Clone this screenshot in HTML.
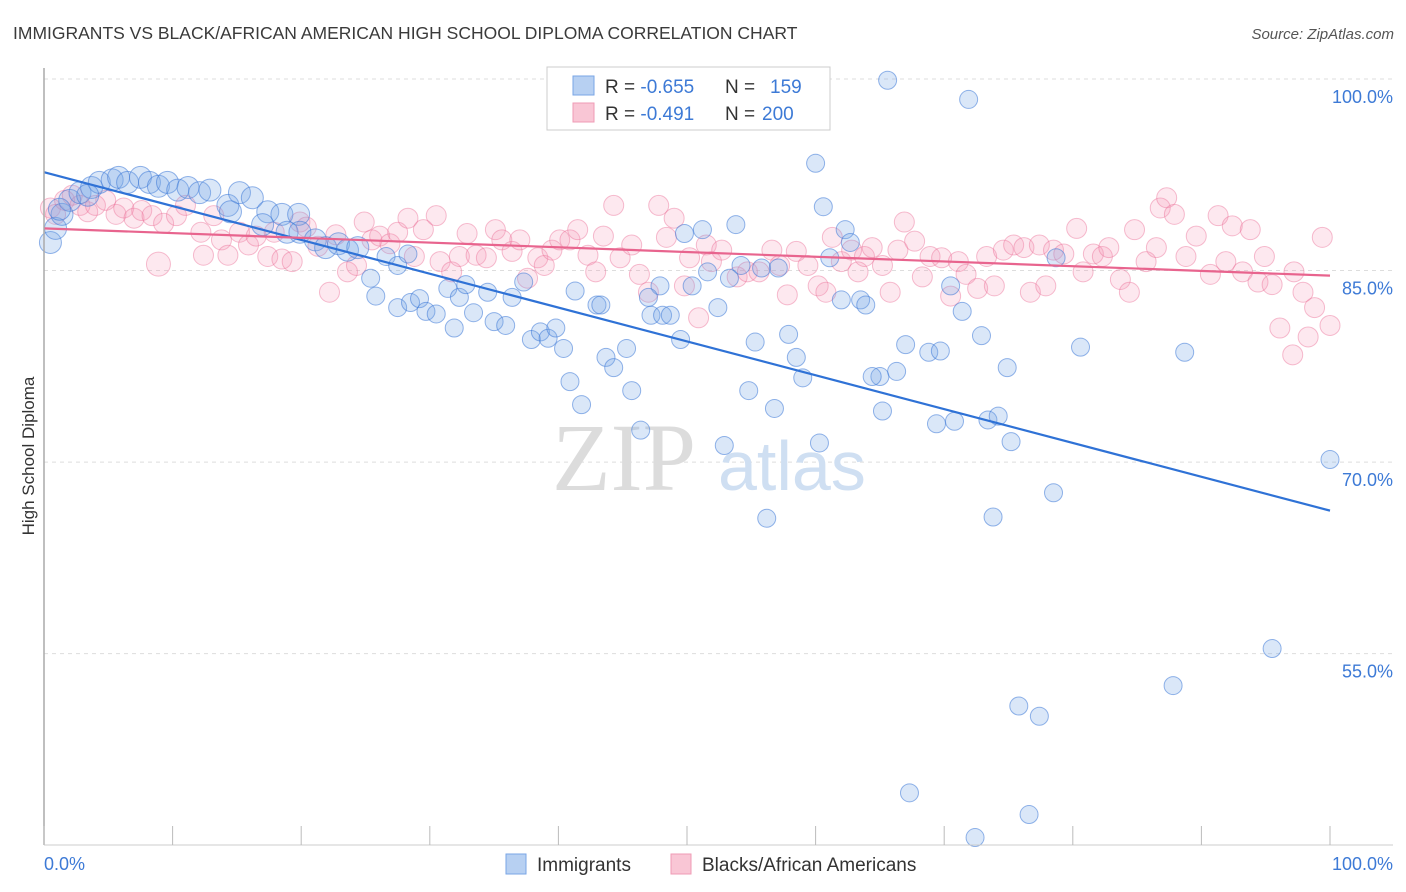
<!DOCTYPE html>
<html><head><meta charset="utf-8"><style>
body{margin:0;background:#fff;font-family:"Liberation Sans",sans-serif;}
</style></head><body>
<svg id="chart" width="1406" height="892" xmlns="http://www.w3.org/2000/svg" style="display:block">
<text x="13" y="39" font-size="17.5" fill="#3a3a3a" font-family="Liberation Sans, sans-serif">IMMIGRANTS VS BLACK/AFRICAN AMERICAN HIGH SCHOOL DIPLOMA CORRELATION CHART</text>
<text x="1394" y="39" font-size="15" fill="#555" text-anchor="end" font-style="italic">Source: ZipAtlas.com</text>
<g id="grid"></g>
<g>
<text x="552" y="490" font-size="96" fill="#dcdcdc" font-family="Liberation Serif, serif">ZIP</text>
<text x="718" y="490" font-size="70" fill="#cfdff2" font-family="Liberation Sans, sans-serif">atlas</text>
</g>
<g id="pinkPts"></g>
<g id="bluePts"></g>
<g id="trend"></g>
<line x1="44" y1="68" x2="44" y2="845" stroke="#aaa" stroke-width="1.5"/>
<line x1="44" y1="845" x2="1393" y2="845" stroke="#ccc" stroke-width="1"/>
<g id="axes"></g>
<text transform="translate(34,456) rotate(-90)" font-size="17" fill="#333" text-anchor="middle">High School Diploma</text>
<g>
<rect x="547" y="67" width="283" height="63" fill="#fff" stroke="#ccc"/>
<rect x="573" y="76" width="21" height="19" fill="#b7d0f2" stroke="#7aa6e6"/>
<rect x="573" y="103" width="21" height="19" fill="#f9c6d5" stroke="#ef9bb5"/>
<text x="605" y="93" font-size="19" fill="#333">R = <tspan fill="#3d7ad6">-0.655</tspan><tspan x="725">N = </tspan><tspan fill="#3d7ad6" x="770">159</tspan></text>
<text x="605" y="120" font-size="19" fill="#333">R = <tspan fill="#3d7ad6"> -0.491</tspan><tspan x="725">N = </tspan><tspan fill="#3d7ad6" x="762">200</tspan></text>
</g>
<g>
<rect x="506" y="854" width="20" height="20" fill="#b7d0f2" stroke="#7aa6e6"/>
<text x="537" y="871" font-size="19" fill="#333">Immigrants</text>
<rect x="671" y="854" width="20" height="20" fill="#f9c6d5" stroke="#ef9bb5"/>
<text x="702" y="871" font-size="19" fill="#333">Blacks/African Americans</text>
</g>
</svg>
<script>
const yTicks=[100,85,70,55];
const yTickLabels=["100.0%","85.0%","70.0%","55.0%"];
const xTicks=[0,10,20,30,40,50,60,70,80,90,100];
const blueX=[65.6,71.9,60.0,60.6,53.8,51.2,49.8,62.3,62.7,61.1,78.7,51.6,54.2,55.8,57.1,53.3,47.9,47.0,50.4,52.4,47.2,48.1,48.7,49.5,43.0,43.3,41.3,43.7,45.3,44.3,45.7,40.9,41.8,46.4,52.9,60.3,56.2,57.9,58.5,59.0,55.3,54.8,56.8,62.0,63.5,63.9,65.0,64.4,65.2,66.3,67.0,68.8,69.7,70.5,71.4,72.9,74.9,69.4,70.8,73.4,74.2,75.2,80.6,88.7,78.5,73.8,100,95.5,87.8,75.8,77.4,67.3,76.6,72.4,0.5,0.9,1.4,2.0,2.8,3.7,4.3,5.3,5.8,6.5,7.5,8.2,8.9,9.6,10.4,11.2,12.1,12.9,14.3,14.5,15.2,16.2,17.4,18.5,19.8,17.0,18.9,19.9,21.1,21.9,22.9,23.6,24.4,25.4,25.8,26.6,27.5,28.3,27.5,28.5,29.2,29.7,30.5,31.9,31.4,32.3,32.8,33.4,34.5,35.0,35.9,36.4,37.3,37.9,38.6,39.2,39.8,40.4,3.4,1.2];
const blueY=[99.9,98.4,93.4,90.0,88.6,88.2,87.9,88.2,87.2,86.0,86.0,84.9,85.4,85.2,85.2,84.4,83.8,82.9,83.8,82.1,81.5,81.5,81.5,79.6,82.3,82.3,83.4,78.2,78.9,77.4,75.6,76.3,74.5,72.5,71.3,71.5,65.6,80.0,78.2,76.6,79.4,75.6,74.2,82.7,82.7,82.3,76.7,76.7,74.0,77.1,79.2,78.6,78.7,83.8,81.8,79.9,77.4,73.0,73.2,73.3,73.6,71.6,79.0,78.6,67.6,65.7,70.2,55.4,52.5,50.9,50.1,44.1,42.4,40.6,87.2,88.3,89.4,90.5,91.1,91.5,91.9,92.1,92.3,91.9,92.3,91.9,91.6,91.9,91.3,91.5,91.1,91.3,90.1,89.6,91.1,90.7,89.6,89.4,89.4,88.6,88.0,88.0,87.4,86.8,87.1,86.6,86.8,84.4,83.0,86.1,85.4,86.3,82.1,82.5,82.8,81.8,81.6,80.5,83.6,82.9,83.9,81.7,83.3,81.0,80.7,82.9,84.1,79.6,80.2,79.7,80.5,78.9,90.9,89.8];
const pinkX=[0.5,0.9,1.6,2.2,2.8,3.4,4.0,4.8,5.6,6.2,7.0,7.6,8.4,8.9,9.3,10.3,11.0,12.2,12.4,13.2,13.8,14.3,15.2,15.9,16.5,17.4,17.9,18.5,19.3,19.9,20.4,21.3,22.2,22.7,23.6,24.3,24.9,25.5,26.1,26.9,27.5,28.3,28.8,29.5,30.5,30.8,31.7,32.3,32.9,33.6,34.4,35.1,35.6,36.4,37.0,37.6,38.4,38.9,39.5,40.1,40.9,41.5,42.3,42.9,43.5,44.3,44.8,45.7,46.3,47.0,47.8,48.4,49.0,49.8,50.2,50.9,51.5,51.9,52.7,53.9,54.7,55.6,56.6,57.2,57.8,58.5,59.4,60.2,60.8,61.3,62.0,62.8,63.3,63.8,64.4,65.2,65.8,66.4,66.9,67.7,68.3,68.9,69.8,70.5,71.1,71.7,72.6,73.3,73.9,74.6,75.4,76.2,76.7,77.4,77.9,78.5,79.3,80.3,80.8,81.6,82.3,82.8,83.7,84.4,84.8,85.7,86.5,86.8,87.3,87.9,88.8,89.6,90.7,91.3,91.9,92.4,93.2,93.8,94.4,94.9,95.5,96.1,97.1,97.9,98.3,98.8,99.4,100,97.2];
const pinkY=[89.9,89.4,90.5,90.9,90.1,89.6,90.1,90.5,89.4,89.9,89.1,89.7,89.3,85.5,88.7,89.3,90.1,88.0,86.2,89.3,87.4,86.2,88.0,87.0,87.7,86.1,88.0,85.9,85.7,88.8,88.4,86.9,83.3,87.8,84.9,85.4,88.8,87.4,87.7,87.1,88.0,89.1,86.1,88.2,89.3,85.7,84.9,86.1,87.9,86.2,86.0,88.2,87.4,86.5,87.4,84.4,86.0,85.4,86.6,87.4,87.4,88.2,86.2,84.9,87.7,90.1,86.0,87.0,84.7,83.3,90.1,87.6,89.1,83.8,86.0,81.3,87.0,85.7,86.6,84.5,84.9,84.9,86.6,85.4,83.1,86.5,85.4,83.8,83.3,87.6,85.7,86.6,84.9,86.1,86.8,85.4,83.3,86.6,88.8,87.3,84.5,86.1,86.0,83.0,85.7,84.7,83.6,86.1,83.8,86.6,87.0,86.8,83.3,87.0,83.8,86.6,86.3,88.3,84.9,86.3,86.1,86.8,84.3,83.3,88.2,85.7,86.8,89.9,90.7,89.4,86.1,87.7,84.7,89.3,85.7,88.5,84.9,88.2,84.1,86.1,83.9,80.5,78.4,83.3,79.8,82.1,87.6,80.7,84.9];
const blueTrend=[92.7,66.2];
const pinkTrend=[88.3,84.6];
const X0=44,X1=1330,Y100=79,PX=12.77;
function sx(v){return X0+(X1-X0)*v/100;}
function sy(v){return Y100+(100-v)*PX;}
const NS="http://www.w3.org/2000/svg";
function mk(tag,attrs,parent){const e=document.createElementNS(NS,tag);for(const k in attrs)e.setAttribute(k,attrs[k]);parent.appendChild(e);return e;}
const grid=document.getElementById('grid'),axes=document.getElementById('axes');
yTicks.forEach((t,i)=>{
  const l=mk('line',{x1:44,x2:1393,y1:sy(t),y2:sy(t),stroke:'#ddd','stroke-dasharray':'4,4'},grid);
  
  
  const tx=mk('text',{x:1393,y:sy(t)+24,'font-size':18,fill:'#3d7ad6','text-anchor':'end'},axes);
  tx.textContent=yTickLabels[i];
  
  
});
xTicks.forEach(t=>{
  const l=mk('line',{x1:sx(t),x2:sx(t),y1:826,y2:845,stroke:'#bbb'},axes);
  
  
});
const xl0=mk('text',{x:44,y:870,'font-size':18,fill:'#3d7ad6'},axes);xl0.textContent='0.0%';


const xl1=mk('text',{x:1393,y:870,'font-size':18,fill:'#3d7ad6','text-anchor':'end'},axes);xl1.textContent='100.0%';


const pg=document.getElementById('pinkPts');
pinkX.forEach((x,i)=>{
  const c=mk('circle',{cx:sx(x),cy:sy(pinkY[i]),r:(i==13?12:10),fill:'rgba(244,150,180,0.22)',stroke:'rgba(236,110,150,0.45)','stroke-width':1},pg);
  
  
});
const bg=document.getElementById('bluePts');
blueX.forEach((x,i)=>{
  const c=mk('circle',{cx:sx(x),cy:sy(blueY[i]),r:(x<25?11:9),fill:'rgba(120,165,230,0.27)',stroke:'rgba(60,120,215,0.55)','stroke-width':1},bg);
  
  
});
const tg=document.getElementById('trend');
const bl=mk('line',{x1:sx(0),y1:sy(blueTrend[0]),x2:sx(100),y2:sy(blueTrend[1]),stroke:'#2f72d6','stroke-width':2.2},tg);


const pl=mk('line',{x1:sx(0),y1:sy(pinkTrend[0]),x2:sx(100),y2:sy(pinkTrend[1]),stroke:'#e8648e','stroke-width':2.2},tg);


</script>
</body></html>
